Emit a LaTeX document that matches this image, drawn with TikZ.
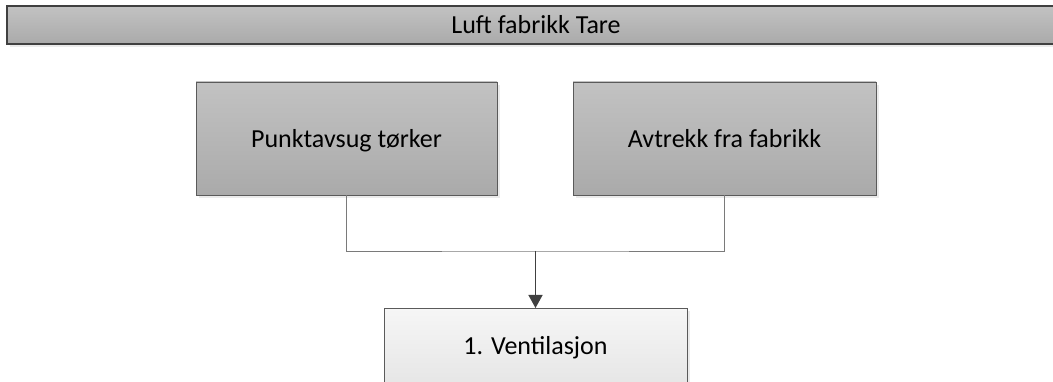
\documentclass[tikz,border=0pt]{standalone}
\usepackage{fontspec}
\setmainfont{Carlito}
\usetikzlibrary{shadows,arrows.meta}
\definecolor{boxtop}{HTML}{C2C2C2}
\definecolor{boxbot}{HTML}{AAAAAA}
\definecolor{lighttop}{HTML}{F6F6F6}
\definecolor{lightbot}{HTML}{DEDEDE}
\definecolor{edge}{HTML}{5A5A5A}
\definecolor{wire}{HTML}{7A7A7A}
\definecolor{arrowc}{HTML}{404040}
\tikzset{
  shade/.style={drop shadow={shadow xshift=3pt, shadow yshift=-3pt, fill=black!8, opacity=1}},
  labelfont/.style={font=\fontsize{26}{30}\selectfont, text height=18pt, text depth=0pt},
  headbar/.style={draw=arrowc, line width=1.2pt, top color=boxtop, bottom color=boxbot, shade,
    minimum width=1058pt, minimum height=38pt, inner sep=0pt, labelfont},
  graybox/.style={draw=edge, line width=0.9pt, top color=boxtop, bottom color=boxbot, shade,
    minimum height=113pt, inner sep=0pt, labelfont},
  lightbox/.style={draw=edge, line width=0.9pt, top color=lighttop, bottom color=lightbot, shade,
    minimum width=303pt, minimum height=113pt, inner sep=0pt},
  boxtext/.style={inner sep=0pt, labelfont},
  conn/.style={draw=wire, line width=0.8pt},
  arr/.style={draw=arrowc, line width=1.4pt, -{Triangle[length=13pt, width=14pt]}}
}
\begin{document}
\begin{tikzpicture}[x=1pt, y=-1pt]
  \useasboundingbox (0,0) rectangle (1053,382);
  \clip (0,0) rectangle (1053,382);
  \fill[white] (0,0) rectangle (1053,382);

  % title bar across the top
  \node[headbar] (title) at (536,25) {Luft fabrikk Tare};

  % the two sources
  \node[graybox, minimum width=301pt] (p1) at (346.5,138.5) {Punktavsug tørker};
  \node[graybox, minimum width=303pt] (p2) at (724.5,138.5) {Avtrekk fra fabrikk};

  % target box, running off the lower edge
  \node[lightbox, anchor=north] (vent) at (535.5,308) {};
  \node[boxtext] (venttext) at (535.5,345) {1. Ventilasjon};

  % joining lines and arrow
  \coordinate (join) at (535.5,251);
  \draw[conn] (p1.south) |- (join) -| (p2.south);
  \draw[arr] (join) -- (vent.north);
\end{tikzpicture}
\end{document}
